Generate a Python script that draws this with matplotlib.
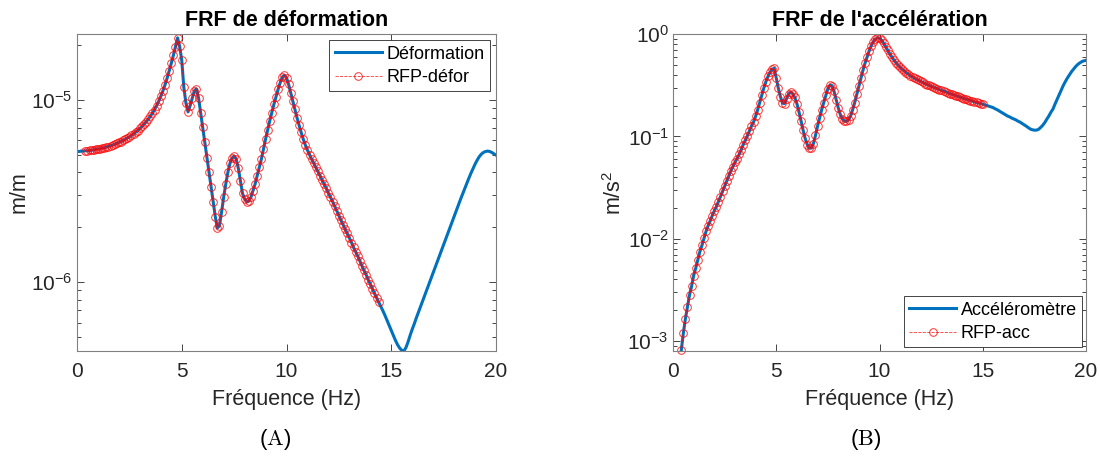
import numpy as np
import matplotlib
matplotlib.use("Agg")
import matplotlib.pyplot as plt
from matplotlib.ticker import LogLocator, NullFormatter

plt.rcParams['font.family'] = ['Liberation Sans', 'DejaVu Sans']
plt.rcParams['mathtext.default'] = 'regular'

# --- données ---
# (A) FRF de déformation, en 1e-6 m/m, de 0 à 20 Hz par pas de 0.1 Hz
freq_step = 0.1
defor_micro = [
    5.21, 5.21, 5.24, 5.24, 5.26, 5.26, 5.28, 5.30, 5.32, 5.35,
    5.37, 5.39, 5.44, 5.46, 5.51, 5.55, 5.60, 5.65, 5.70, 5.77,
    5.84, 5.91, 5.99, 6.07, 6.17, 6.27, 6.38, 6.52, 6.65, 6.79,
    6.97, 7.15, 7.36, 7.58, 7.84, 8.14, 8.45, 8.85, 9.31, 9.83,
    10.47, 11.20, 12.08, 13.14, 14.41, 15.88, 17.56, 19.59, 21.9, 19.7,
    16.5, 11.7, 9.6, 8.6, 9.3, 10.2, 11.2, 11.5, 10.3, 8.53,
    7.06, 5.84, 4.83, 4.00, 3.31, 2.74, 2.29, 1.98, 2.04, 2.42,
    2.92, 3.45, 4.00, 4.48, 4.79, 4.92, 4.73, 4.22, 3.60, 3.07,
    2.86, 2.77, 2.78, 2.92, 3.18, 3.45, 3.84, 4.26, 4.73, 5.37,
    6.09, 6.85, 7.67, 8.53, 9.47, 10.39, 11.44, 12.44, 13.36, 13.65,
    13.25, 12.18, 10.97, 9.87, 8.89, 8.00, 7.27, 6.63, 6.09, 5.65,
    5.30, 5.00, 4.73, 4.50, 4.26, 4.05, 3.84, 3.63, 3.45, 3.27,
    3.08, 2.92, 2.77, 2.61, 2.46, 2.32, 2.19, 2.07, 1.95, 1.85,
    1.75, 1.65, 1.55, 1.47, 1.39, 1.31, 1.23, 1.16, 1.10, 1.03,
    0.975, 0.919, 0.867, 0.820, 0.777, 0.736, 0.697, 0.657, 0.617, 0.579,
    0.544, 0.510, 0.479, 0.454, 0.435, 0.423, 0.419, 0.437, 0.469, 0.510,
    0.551, 0.591, 0.638, 0.685, 0.736, 0.787, 0.845, 0.908, 0.975, 1.047,
    1.125, 1.208, 1.298, 1.394, 1.497, 1.608, 1.726, 1.854, 1.992, 2.139,
    2.297, 2.467, 2.639, 2.835, 3.032, 3.243, 3.467, 3.709, 3.951, 4.19,
    4.44, 4.67, 4.88, 5.04, 5.15, 5.21, 5.24, 5.21, 5.15, 5.06,
    4.98,
]
defor_start = 0.0
rfp_defor_range = (0.4, 14.4)   # plage de l'identification RFP

# (B) FRF de l'accélération, en m/s^2, de 0.4 à 20 Hz par pas de 0.1 Hz
acc = [
    8.1e-4, 1.19e-3, 1.65e-3, 2.16e-3, 2.82e-3, 3.43e-3, 4.37e-3, 5.15e-3, 6.19e-3, 7.46e-3,
    8.59e-3, 1.01e-2, 1.18e-2, 1.34e-2, 1.49e-2, 1.68e-2, 1.87e-2, 2.06e-2, 2.30e-2, 2.58e-2,
    2.90e-2, 3.27e-2, 3.67e-2, 4.13e-2, 4.60e-2, 5.07e-2, 5.57e-2, 6.05e-2, 6.65e-2, 7.36e-2,
    8.30e-2, 9.12e-2, 0.101, 0.113, 0.126, 0.138, 0.157, 0.182, 0.214, 0.252,
    0.297, 0.343, 0.385, 0.422, 0.452, 0.462, 0.372, 0.295, 0.245, 0.211,
    0.209, 0.234, 0.260, 0.271, 0.260, 0.240, 0.209, 0.174, 0.141, 0.115,
    0.0955, 0.0832, 0.0767, 0.0767, 0.0851, 0.102, 0.126, 0.151, 0.182, 0.214,
    0.251, 0.292, 0.316, 0.313, 0.275, 0.229, 0.191, 0.164, 0.148, 0.141,
    0.140, 0.145, 0.158, 0.182, 0.214, 0.257, 0.309, 0.372, 0.442, 0.519,
    0.596, 0.684, 0.767, 0.841, 0.891, 0.916, 0.912, 0.871, 0.813, 0.750,
    0.692, 0.638, 0.596, 0.556, 0.525, 0.495, 0.473, 0.452, 0.435, 0.419,
    0.405, 0.392, 0.380, 0.370, 0.361, 0.352, 0.344, 0.336, 0.328, 0.321,
    0.315, 0.308, 0.303, 0.297, 0.292, 0.286, 0.281, 0.276, 0.272, 0.267,
    0.262, 0.258, 0.254, 0.250, 0.246, 0.242, 0.238, 0.234, 0.231, 0.228,
    0.224, 0.221, 0.218, 0.215, 0.212, 0.209, 0.206, 0.203, 0.200, 0.197,
    0.194, 0.191, 0.186, 0.182, 0.177, 0.172, 0.167, 0.163, 0.158, 0.155,
    0.151, 0.148, 0.145, 0.141, 0.138, 0.134, 0.130, 0.126, 0.122, 0.118,
    0.116, 0.115, 0.115, 0.117, 0.122, 0.128, 0.136, 0.147, 0.158, 0.172,
    0.185, 0.207, 0.230, 0.257, 0.285, 0.314, 0.343, 0.372, 0.400, 0.429,
    0.455, 0.481, 0.504, 0.522, 0.537, 0.547, 0.553,
]
acc_start = 0.4
rfp_acc_range = (0.4, 15.0)

freq_defor = np.round(defor_start + freq_step * np.arange(len(defor_micro)), 1)
defor = np.array(defor_micro) * 1e-6
freq_acc = np.round(acc_start + freq_step * np.arange(len(acc)), 1)
acc = np.array(acc)

m1 = (freq_defor >= rfp_defor_range[0]) & (freq_defor <= rfp_defor_range[1])
m2 = (freq_acc >= rfp_acc_range[0]) & (freq_acc <= rfp_acc_range[1])

blue = '#0072BD'
dark = '#262626'

fig = plt.figure(figsize=(11, 4.57), dpi=100)
ax1 = fig.add_axes([77 / 1100, 1 - 351 / 457, 419 / 1100, 317 / 457])
ax2 = fig.add_axes([673 / 1100, 1 - 351 / 457, 413 / 1100, 317 / 457])


def style(ax):
    ax.set_yscale('log')
    ax.set_xlim(0, 20)
    ax.set_xticks([0, 5, 10, 15, 20])
    ax.yaxis.set_minor_locator(LogLocator(base=10, subs=np.arange(2, 10)))
    ax.yaxis.set_minor_formatter(NullFormatter())
    ax.tick_params(which='both', direction='in', top=True, right=True,
                   colors=dark, labelsize=15, width=0.6)
    ax.tick_params(which='major', length=5)
    ax.tick_params(which='minor', length=3)
    ax.tick_params(axis='x', pad=8)
    ax.tick_params(axis='y', pad=3)
    for s in ax.spines.values():
        s.set_color('#808080')
        s.set_linewidth(0.8)


leg_kw = dict(fontsize=13, fancybox=False, framealpha=1, edgecolor=dark,
              handlelength=2.6, handletextpad=0.25, borderpad=0.3,
              labelspacing=0.35)

# --- (A) ---
ax1.plot(freq_defor, defor, color=blue, lw=2.2, label='Déformation')
ax1.plot(freq_defor[m1], defor[m1], 'o--', color='red', lw=0.6, ms=5.5,
         mfc='none', mew=0.7, alpha=0.8, label='RFP-défor', clip_on=False)
style(ax1)
ax1.set_ylim(4.19e-7, 2.3e-5)
ax1.set_title('FRF de déformation', fontsize=15.5, fontweight='bold', pad=6, color='black')
ax1.set_xlabel('Fréquence (Hz)', fontsize=15.5, color=dark, labelpad=6)
ax1.set_ylabel('m/m', fontsize=15.5, color=dark, labelpad=1)
leg1 = ax1.legend(loc='upper right', borderaxespad=0.35, **leg_kw)
leg1.get_frame().set_linewidth(0.6)

# --- (B) ---
ax2.plot(freq_acc, acc, color=blue, lw=2.2, label='Accéléromètre')
ax2.plot(freq_acc[m2], acc[m2], 'o--', color='red', lw=0.6, ms=5.5,
         mfc='none', mew=0.7, alpha=0.8, label='RFP-acc', clip_on=False)
style(ax2)
ax2.set_ylim(8e-4, 1.0)
ax2.set_title("FRF de l'accélération", fontsize=15.5, fontweight='bold', pad=6, color='black')
ax2.set_xlabel('Fréquence (Hz)', fontsize=15.5, color=dark, labelpad=6)
ax2.set_ylabel('m/s$^{2}$', fontsize=15.5, color=dark, labelpad=1)
leg2 = ax2.legend(loc='lower right', borderaxespad=0.2, **leg_kw)
leg2.get_frame().set_linewidth(0.6)

# sous-légendes
fig.text(275 / 1100, 1 - 440 / 457, r'$(\mathrm{A})$', math_fontfamily='cm',
         fontsize=16, ha='center', va='center')
fig.text(866 / 1100, 1 - 440 / 457, r'$(\mathrm{B})$', math_fontfamily='cm',
         fontsize=16, ha='center', va='center')

fig.savefig('out.png', dpi=100)
